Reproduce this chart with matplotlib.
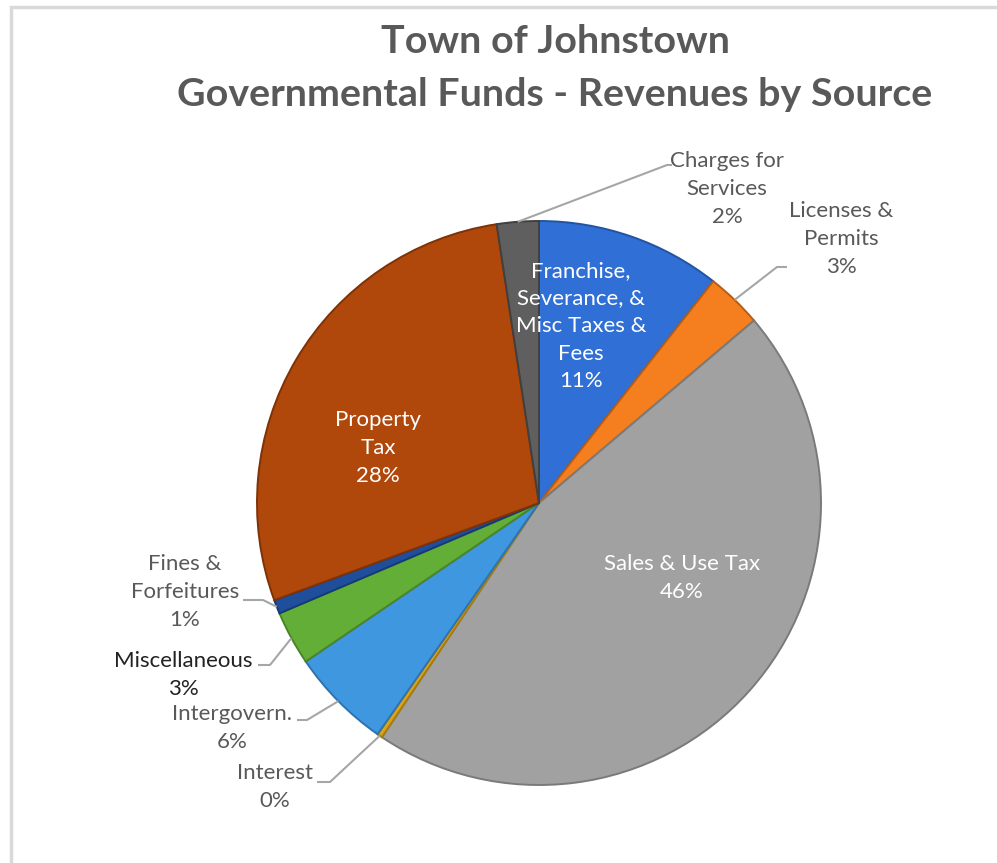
import matplotlib
matplotlib.use("Agg")
import matplotlib.pyplot as plt
import numpy as np
from matplotlib.patches import Rectangle

W, H = 997, 863

categories = ["Franchise,\nSeverance, &\nMisc Taxes &\nFees", "Licenses &\nPermits", "Sales & Use Tax",
              "Interest", "Intergovern.", "Miscellaneous", "Fines &\nForfeitures", "Property\nTax",
              "Charges for\nServices"]
values = [10.6, 3.2, 45.6, 0.3, 5.8, 3.1, 0.8, 28.2, 2.4]
colors = ["#2F6FD6", "#F57F1F", "#A1A1A1", "#D9A31A", "#3F97E0", "#63AE37", "#1F4E9C", "#B0470B", "#5F5F5F"]
edge_colors = ["#22549F", "#B85E14", "#7A7A7A", "#A67C10", "#2E72AE", "#4A8528", "#163A75", "#7E3208", "#404040"]

title_lines = ["Town of Johnstown", "Governmental Funds - Revenues by Source"]

# label layout (pixel coordinates): text center, elbow point, horizontal end x
inside = {0: (581, 326), 2: (682, 578), 7: (378, 448)}
outside = {
    8: ((727, 189), (667, 165), 672),
    1: ((841, 239), (777, 267), 787),
    6: ((185, 592), (263, 600), 243),
    5: ((183, 675), (270, 665), 258),
    4: ((232, 728), (307, 720), 297),
    3: ((275, 787), (330, 782), 317),
}

plt.rcParams['font.family'] = ['Lato', 'DejaVu Sans']
fig = plt.figure(figsize=(W / 100, H / 100), dpi=100)
ax = fig.add_axes([0, 0, 1, 1])

def py(y):
    return H - y

cx, cy, R = 539, 503, 282
wedges, _ = ax.pie(values, colors=colors, startangle=90, counterclock=False,
                   center=(cx, py(cy)), radius=R,
                   wedgeprops=dict(linewidth=1.4))
for w, ec in zip(wedges, edge_colors):
    w.set_edgecolor(ec)

ax.set_xlim(0, W)
ax.set_ylim(0, H)
ax.set_aspect('equal')
ax.axis('off')

# chart border
ax.add_patch(Rectangle((11, -10), W + 20, py(7) + 10, fill=False, edgecolor="#D9D9D9", lw=2.5))

pcts = ["%.0f%%" % v for v in values]
FS, LS = 16, 1.47

for i, (tx, ty) in inside.items():
    ax.text(tx, py(ty), categories[i] + "\n" + pcts[i], ha='center', va='center',
            color='white', fontsize=FS, linespacing=LS)

for i, ((tx, ty), (ex, ey), hx) in outside.items():
    w = wedges[i]
    mid = np.deg2rad((w.theta1 + w.theta2) / 2)
    sx = cx + R * np.cos(mid)
    sy = py(cy) + R * np.sin(mid)
    ax.plot([sx, ex, hx], [sy, py(ey), py(ey)], color="#A6A6A6", lw=1.5, solid_capstyle='butt')
    col = "#222222" if i == 5 else "#595959"
    ax.text(tx, py(ty), categories[i] + "\n" + pcts[i], ha='center', va='center',
            color=col, fontsize=FS, linespacing=LS)

ax.text(555, py(42), title_lines[0], ha='center', va='center', color="#595959",
        fontsize=28.4, fontweight='bold')
ax.text(555, py(95), title_lines[1], ha='center', va='center', color="#595959",
        fontsize=28.4, fontweight='bold')

fig.savefig("out.png", dpi=100)
